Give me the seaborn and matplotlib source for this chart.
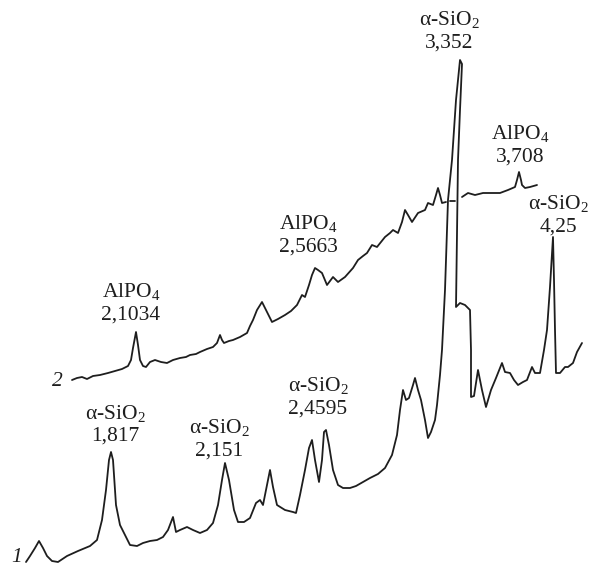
import seaborn as sns
import matplotlib.pyplot as plt
import pandas as pd

# traces (horizontal position, deflection; deflection grows downward)
curve1_x = [26, 30, 35, 39, 43, 47, 52, 58, 67, 78, 90, 97, 102, 106, 109, 111, 113, 116, 120, 124,
            130, 137, 143, 150, 157, 163, 168, 173, 176, 180, 187, 193, 200, 207, 213, 218, 222, 225,
            229, 234, 238, 244, 250, 256, 260, 263, 267, 270, 273, 277, 285, 293, 296, 300, 305, 309,
            312, 315, 319, 322, 324, 326, 329, 333, 338, 343, 350, 356, 363, 370, 378, 385, 392, 397,
            400, 403, 406, 409, 413, 415, 418, 421, 425, 428, 431, 435, 437, 440, 442, 445, 448, 452,
            456, 460, 462, 460, 458, 457, 456, 460, 465, 470, 471, 471, 474, 478, 482, 486, 491, 496,
            502, 505, 510, 514, 518, 523, 527, 532, 535, 540, 544, 547, 550, 553, 554, 555, 556, 560,
            565, 568, 573, 577, 582]
curve1_y = [562, 556, 548, 541, 548, 556, 561, 562, 556, 551, 546, 540, 520, 490, 460, 452, 460, 505, 525, 533,
            545, 546, 543, 541, 540, 537, 530, 517, 532, 530, 527, 530, 533, 530, 523, 505, 480, 463,
            480, 510, 522, 522, 518, 503, 500, 505, 485, 470, 487, 505, 510, 512, 513, 495, 470, 448,
            440, 460, 482, 460, 432, 430, 445, 470, 485, 488, 488, 486, 482, 478, 474, 468, 455, 435,
            410, 390, 400, 398, 385, 378, 390, 400, 420, 438, 432, 420, 405, 375, 350, 290, 200, 160,
            100, 60, 64, 110, 160, 230, 307, 303, 305, 310, 350, 397, 396, 370, 390, 407, 390, 378,
            363, 372, 373, 380, 385, 382, 380, 367, 373, 373, 350, 330, 287, 237, 280, 330, 373, 373,
            367, 367, 363, 352, 343]

curve2a_x = [72, 77, 82, 87, 93, 100, 108, 115, 122, 128, 131, 133, 136, 138, 140, 143, 146, 150, 155, 161,
             167, 173, 180, 186, 190, 196, 200, 207, 213, 217, 220, 222, 224, 229, 233, 240, 247, 250,
             253, 257, 262, 266, 272, 278, 285, 291, 297, 302, 305, 309, 312, 315, 318, 322, 327, 333,
             338, 345, 353, 358, 363, 367, 372, 377, 381, 385, 390, 393, 398, 402, 405, 408, 412, 418,
             425, 428, 433, 436, 438, 440, 442, 446]
curve2a_y = [380, 378, 377, 379, 376, 375, 373, 371, 369, 366, 360, 348, 332, 345, 360, 366, 367, 362, 360, 362,
             363, 360, 358, 357, 355, 354, 352, 349, 347, 343, 335, 340, 343, 341, 340, 337, 333, 326,
             320, 310, 302, 310, 322, 319, 315, 311, 305, 295, 297, 285, 275, 268, 270, 273, 285, 277,
             282, 277, 268, 260, 256, 253, 245, 247, 242, 237, 233, 230, 233, 222, 210, 215, 222, 213,
             210, 203, 205, 195, 188, 195, 203, 202]
cross_x = [450, 455]
cross_y = [201, 201]
curve2b_x = [462, 468, 475, 483, 490, 500, 508, 515, 517, 519, 521, 522, 525, 530, 537]
curve2b_y = [197, 193, 195, 193, 193, 193, 190, 187, 180, 172, 180, 185, 188, 187, 185]

peak_names = ["α-SiO$_2$", "AlPO$_4$", "α-SiO$_2$", "AlPO$_4$", "AlPO$_4$",
              "α-SiO$_2$", "α-SiO$_2$", "α-SiO$_2$"]
peak_d = ["3,352", "3,708", "4,25", "2,5663", "2,1034", "1,817", "2,151", "2,4595"]
label_x = [449, 520, 558, 308, 131, 115, 219, 318]
label_y = [20, 134, 204, 224, 292, 413, 428, 386]

sns.set_style("white")
plt.rcParams['font.family'] = ['Liberation Serif', 'DejaVu Serif']
plt.rcParams['mathtext.fontset'] = 'custom'
plt.rcParams['mathtext.rm'] = 'Liberation Serif'
plt.rcParams['mathtext.it'] = 'Liberation Serif:italic'

fig = plt.figure(figsize=(5.93, 5.66), dpi=100)
ax = fig.add_axes([0, 0, 1, 1])

ink = "#1e1e1e"
for xs, ys in [(curve1_x, curve1_y), (curve2a_x, curve2a_y), (cross_x, cross_y), (curve2b_x, curve2b_y)]:
    df = pd.DataFrame({"x": xs, "y": ys})
    sns.lineplot(data=df, x="x", y="y", sort=False, estimator=None, color=ink, lw=1.3, ax=ax)

for name, d, x, y in zip(peak_names, peak_d, label_x, label_y):
    ax.text(x, y, name, ha="center", va="center", fontsize=15.5, color=ink)
    ax.text(x, y + 23, d, ha="center", va="center", fontsize=15.5, color=ink)

ax.text(57, 382, "2", ha="center", va="center", fontsize=15.5, style="italic", color=ink)
ax.text(17, 558, "1", ha="center", va="center", fontsize=15.5, style="italic", color=ink)

ax.set_xlim(0, 593)
ax.set_ylim(566, 0)
ax.axis("off")

plt.savefig("out.png", dpi=100)
